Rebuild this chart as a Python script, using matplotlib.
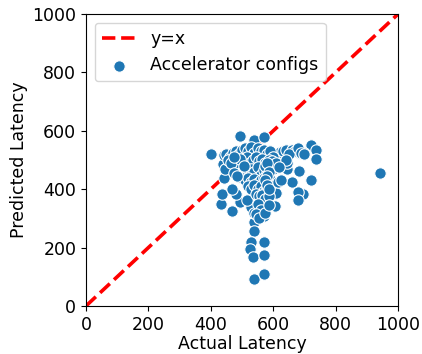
import matplotlib
matplotlib.use("Agg")
import matplotlib.pyplot as plt

# Actual vs. predicted latency for each accelerator configuration
actual = [
    400, 494, 537, 569, 941, 721, 738, 738, 721, 694, 681, 679, 684, 660,
    644, 644, 684, 700, 655, 622, 608, 609, 606, 571, 571, 539, 539, 529,
    571, 524, 535, 572, 539, 572, 432, 435, 467, 492, 481, 467, 441, 439,
    443, 473, 489, 528, 537, 558, 516, 537,
    450, 460, 470, 480, 490, 500, 510, 520, 530, 540, 550, 560, 570, 580,
    590, 600, 505, 515, 525, 535, 545, 555, 565, 575, 585, 595,
    480, 490, 500, 510, 520, 530, 540, 550, 560, 570, 580, 590, 500, 510,
    520, 530, 540, 550, 560, 570, 580, 590, 520, 530, 540, 550, 560, 570,
    580, 590, 600, 610, 545, 555, 565, 575, 585, 550, 560, 545, 555, 575,
    585,
    575, 580, 585, 580, 575, 580, 585,
    445, 455, 465, 475, 485, 495, 505, 475,
    630, 640, 660, 670, 650, 680, 690, 700, 640, 620, 615, 625,
]
predicted = [
    520, 582, 568, 578, 454, 551, 535, 503, 431, 384, 392, 363, 462, 423,
    468, 489, 523, 523, 534, 528, 420, 388, 344, 356, 308, 289, 255, 220,
    220, 194, 169, 175, 91, 110, 349, 384, 325, 355, 384, 400, 437, 485,
    517, 526, 442, 340, 317, 386, 363, 397,
    520, 510, 525, 530, 520, 535, 540, 530, 545, 525, 540, 530, 535, 520,
    530, 510, 500, 510, 490, 500, 510, 495, 505, 490, 500, 495,
    470, 480, 460, 470, 455, 470, 460, 475, 450, 465, 455, 470, 440, 430,
    440, 425, 435, 420, 430, 440, 420, 435, 410, 400, 415, 400, 410, 395,
    405, 415, 470, 490, 385, 375, 380, 365, 375, 350, 330, 315, 300, 320,
    345,
    480, 490, 460, 445, 430, 415, 400,
    470, 500, 490, 455, 445, 505, 480, 510,
    530, 535, 535, 530, 520, 540, 525, 520, 500, 475, 425, 430,
]
diag = [0, 1000]

fig = plt.figure(figsize=(4.22, 3.54), dpi=100)
ax = fig.add_axes([0.204, 0.136, 0.739, 0.824])

ax.plot(diag, diag, color="red", linestyle="--", linewidth=2.6, label="y=x")
ax.scatter(actual, predicted, s=68, color="#1f77b4", edgecolors="white",
           linewidths=0.8, label="Accelerator configs", zorder=3)

ax.set_xlim(0, 1000)
ax.set_ylim(0, 1000)
ax.set_xticks([0, 200, 400, 600, 800, 1000])
ax.set_yticks([0, 200, 400, 600, 800, 1000])
ax.tick_params(labelsize=12.5)
ax.set_xlabel("Actual Latency", fontsize=12.5, labelpad=1)
ax.set_ylabel("Predicted Latency", fontsize=12.5, labelpad=3)
ax.legend(loc="upper left", fontsize=12.5)

fig.savefig("out.png", dpi=100)
